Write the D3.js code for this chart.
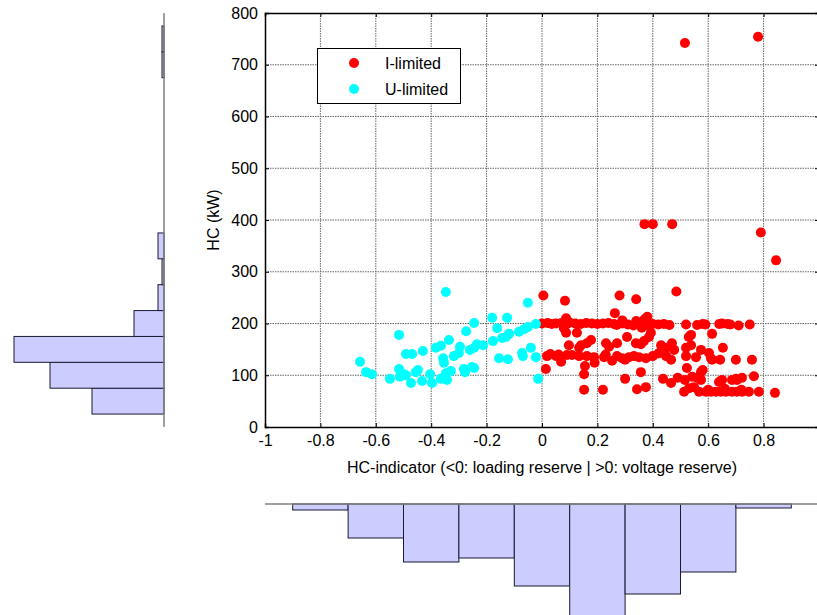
<!DOCTYPE html>
<html>
<head>
<meta charset="utf-8">
<script src="https://cdn.jsdelivr.net/npm/d3@7"></script>
<style>
  html, body { margin: 0; padding: 0; background: #fff; }
  svg { display: block; font-family: Arial, "Liberation Sans", sans-serif; }
</style>
</head>
<body>
<svg id="chart" width="817" height="615"></svg>
<script>
// HC-indicator vs hosting capacity, split by the limiting constraint
const iLimited = [
  [0.516,742],[0.78,754],[0.37,392],[0.40,392],[0.47,392],[0.79,376],[0.845,322],[0.485,262],
  [0.005,254],[0.083,244],[0.28,254],[0.34,247],[0.263,220],[0.38,213],[0.087,210],[0.37,208],
  [0.0,200],[0.02,201],[0.035,199],[0.05,200],[0.07,201],[0.09,199],[0.10,202],[0.12,200],
  [0.14,199],[0.16,201],[0.18,200],[0.20,199],[0.22,200],[0.24,201],[0.26,199],[0.27,197],
  [0.29,200],[0.31,198],[0.33,196],[0.35,199],[0.37,200],[0.38,197],[0.40,199],[0.42,198],
  [0.44,199],[0.46,197],[0.52,198],[0.56,197],[0.58,199],[0.59,198],[0.64,199],[0.65,200],
  [0.67,199],[0.68,198],[0.71,196],[0.75,198],[0.34,205],[0.36,192],[0.29,206],
  [0.079,191],[0.087,182],[0.126,182],[0.177,168],[0.162,162],[0.141,158],[0.134,153],[0.097,158],
  [0.231,162],[0.242,155],[0.271,162],[0.307,174],[0.339,162],[0.357,160],[0.368,166],[0.386,174],
  [0.393,182],[0.43,158],[0.448,153],[0.469,162],[0.477,149],[0.52,153],[0.538,158],[0.574,149],
  [0.538,178],[0.653,153],[0.603,143],[0.614,180],[0.53,174],
  [0.018,137],[0.051,137],[0.069,126],[0.09,139],[0.108,139],[0.134,137],[0.162,137],[0.188,135],
  [0.224,135],[0.253,128],[0.271,137],[0.289,133],[0.314,135],[0.332,137],[0.35,135],[0.375,133],
  [0.448,137],[0.466,130],[0.52,137],[0.556,135],[0.61,133],[0.614,130],[0.643,130],[0.70,130],
  [0.758,130],[0.03,141],[0.06,140],[0.19,124],[0.23,140],[0.30,130],[0.40,137],[0.42,142],
  [0.014,112],[0.155,118],[0.152,102],[0.357,106],[0.523,114],[0.574,106],[0.542,97],[0.574,91],
  [0.765,98],[0.722,95],[0.70,93],[0.686,91],[0.704,91],[0.30,93],[0.437,93],[0.466,85],
  [0.639,87],[0.65,91],[0.516,91],[0.56,95],[0.58,110],[0.49,95],
  [0.152,72],[0.22,72],[0.343,73],[0.375,77],[0.513,68],[0.531,75],[0.549,77],[0.567,68],
  [0.592,68],[0.61,68],[0.628,68],[0.646,68],[0.664,68],[0.686,68],[0.704,68],[0.722,68],
  [0.747,68],[0.783,68],[0.841,66],[0.60,72],[0.66,74],[0.72,72]
];

const uLimited = [
  [-0.347,261],[-0.657,126],[-0.635,106],[-0.614,102],[-0.516,178],[-0.549,93],[-0.516,112],
  [-0.491,141],[-0.469,141],[-0.513,97],[-0.491,100],[-0.473,85],[-0.455,106],[-0.448,110],
  [-0.433,89],[-0.430,147],[-0.404,102],[-0.397,85],[-0.383,153],[-0.365,157],[-0.336,168],
  [-0.357,133],[-0.354,124],[-0.365,93],[-0.347,104],[-0.329,108],[-0.343,91],[-0.318,137],
  [-0.296,155],[-0.300,143],[-0.282,112],[-0.278,106],[-0.245,114],[-0.260,149],[-0.245,153],
  [-0.235,160],[-0.213,158],[-0.274,185],[-0.245,201],[-0.180,211],[-0.162,191],[-0.126,211],
  [-0.177,166],[-0.144,172],[-0.119,180],[-0.155,133],[-0.123,131],[-0.083,184],[-0.065,189],
  [-0.072,143],[-0.069,137],[-0.040,153],[-0.022,135],[-0.022,199],[-0.051,240],[-0.014,93],
  [-0.498,102],[-0.051,193],[-0.253,116],[-0.130,174]
];

// Marginal histograms: bin centres and counts
const hcBinCenters = [50,100,150,200,250,300,350,400,450,500,550,600,650,700,750];
const hcCounts     = [36,57,75,15,3,1,3,0,0,0,0,0,0,1,1];
const hciBinCenters = [-0.8,-0.6,-0.4,-0.2,0,0.2,0.4,0.6,0.8];
const hciCounts     = [3,17,29,27,41,57,45,34,2];

const xTicks = [-1,-0.8,-0.6,-0.4,-0.2,0,0.2,0.4,0.6,0.8,1];
const xTickLabels = ["-1","-0.8","-0.6","-0.4","-0.2","0","0.2","0.4","0.6","0.8",""];
const yTicks = [0,100,200,300,400,500,600,700,800];
const seriesNames = ["I-limited","U-limited"];
const seriesColors = ["#ff0000","#00ffff"];

const FONT = 16;
const svg = d3.select("#chart");

const x = d3.scaleLinear().domain([-1,1]).range([265,819]);
const y = d3.scaleLinear().domain([0,800]).range([427,13]);

// --- grid ---
const grid = svg.append("g");
grid.selectAll("line.gx").data(xTicks.filter(t => t > -1 && t < 1)).join("line")
  .attr("x1", d => x(d)).attr("x2", d => x(d)).attr("y1", y(0)).attr("y2", y(800))
  .attr("stroke", "#666").attr("stroke-width", 1).attr("stroke-dasharray", "1.5,1");
grid.selectAll("line.gy").data(yTicks.filter(t => t > 0 && t < 800)).join("line")
  .attr("y1", d => y(d)).attr("y2", d => y(d)).attr("x1", x(-1)).attr("x2", x(1))
  .attr("stroke", "#666").attr("stroke-width", 1).attr("stroke-dasharray", "1.5,1");

// --- scatter ---
const pts = svg.append("g");
pts.selectAll("circle.i").data(iLimited).join("circle")
  .attr("cx", d => x(d[0])).attr("cy", d => y(d[1])).attr("r", 5)
  .attr("fill", seriesColors[0]);
pts.selectAll("circle.u").data(uLimited).join("circle")
  .attr("class","u")
  .attr("cx", d => x(d[0])).attr("cy", d => y(d[1])).attr("r", 5)
  .attr("fill", seriesColors[1]);

// --- axes frame ---
const axB = svg.append("g").attr("transform", `translate(0,${y(0)})`)
  .call(d3.axisBottom(x).tickValues(xTicks).tickSize(-4).tickPadding(8)
    .tickFormat((d, i) => xTickLabels[i]));
const axT = svg.append("g").attr("transform", `translate(0,${y(800)})`)
  .call(d3.axisTop(x).tickValues(xTicks).tickSize(-4).tickFormat(""));
const axL = svg.append("g").attr("transform", `translate(${x(-1)},0)`)
  .call(d3.axisLeft(y).tickValues(yTicks).tickSize(-4).tickPadding(7).tickFormat(d => String(d)));
const axR = svg.append("g").attr("transform", `translate(${x(1)},0)`)
  .call(d3.axisRight(y).tickValues(yTicks).tickSize(-4).tickFormat(""));
[axB, axT, axL, axR].forEach(a => {
  a.select(".domain").attr("stroke", "#000").attr("stroke-width", 1.5);
  a.selectAll(".tick line").attr("stroke", "#000");
  a.selectAll("text").attr("font-size", FONT).attr("fill", "#000")
    .attr("font-family", "Arial, 'Liberation Sans', sans-serif");
});
axB.selectAll(".tick text").attr("dy", "0.71em");

svg.append("text")
  .attr("x", 542).attr("y", 473).attr("text-anchor", "middle")
  .attr("font-size", FONT).text("HC-indicator (<0: loading reserve | >0: voltage reserve)");
svg.append("text")
  .attr("transform", `translate(219,${y(400)}) rotate(-90)`)
  .attr("text-anchor", "middle").attr("font-size", FONT).text("HC (kW)");

// --- legend ---
const lg = svg.append("g");
lg.append("rect").attr("x", 317.5).attr("y", 48.5).attr("width", 143).attr("height", 55)
  .attr("fill", "#fff").attr("stroke", "#000").attr("stroke-width", 1);
seriesNames.forEach((n, i) => {
  lg.append("circle").attr("cx", 354).attr("cy", 63 + i * 26).attr("r", 5)
    .attr("fill", seriesColors[i]);
  lg.append("text").attr("x", 385).attr("y", 69 + i * 26).attr("font-size", FONT).text(n);
});

// --- left marginal histogram (HC) ---
const hcW = 50;
const hx = d3.scaleLinear().domain([0,75]).range([164,14]);
const lh = svg.append("g");
lh.selectAll("rect").data(hcBinCenters.map((c, i) => ({c, n: hcCounts[i]})).filter(d => d.n > 0))
  .join("rect")
  .attr("x", d => hx(d.n)).attr("width", d => hx(0) - hx(d.n))
  .attr("y", d => y(d.c + hcW / 2)).attr("height", d => y(d.c - hcW / 2) - y(d.c + hcW / 2))
  .attr("fill", "#ccccff").attr("stroke", "#1a1a33").attr("stroke-width", 1);
lh.append("line").attr("x1", hx(0)).attr("x2", hx(0)).attr("y1", y(800)).attr("y2", y(0))
  .attr("stroke", "#808080").attr("stroke-width", 1.5);

// --- bottom marginal histogram (HC-indicator) ---
const hciW = 0.2;
const hy = d3.scaleLinear().domain([0,60]).range([504,624]);
const bh = svg.append("g");
bh.selectAll("rect").data(hciBinCenters.map((c, i) => ({c, n: hciCounts[i]})))
  .join("rect")
  .attr("x", d => x(d.c - hciW / 2)).attr("width", d => x(d.c + hciW / 2) - x(d.c - hciW / 2))
  .attr("y", hy(0)).attr("height", d => hy(d.n) - hy(0))
  .attr("fill", "#ccccff").attr("stroke", "#1a1a33").attr("stroke-width", 1);
bh.append("line").attr("x1", x(-1)).attr("x2", x(1)).attr("y1", hy(0)).attr("y2", hy(0))
  .attr("stroke", "#808080").attr("stroke-width", 1.5);
</script>
</body>
</html>
